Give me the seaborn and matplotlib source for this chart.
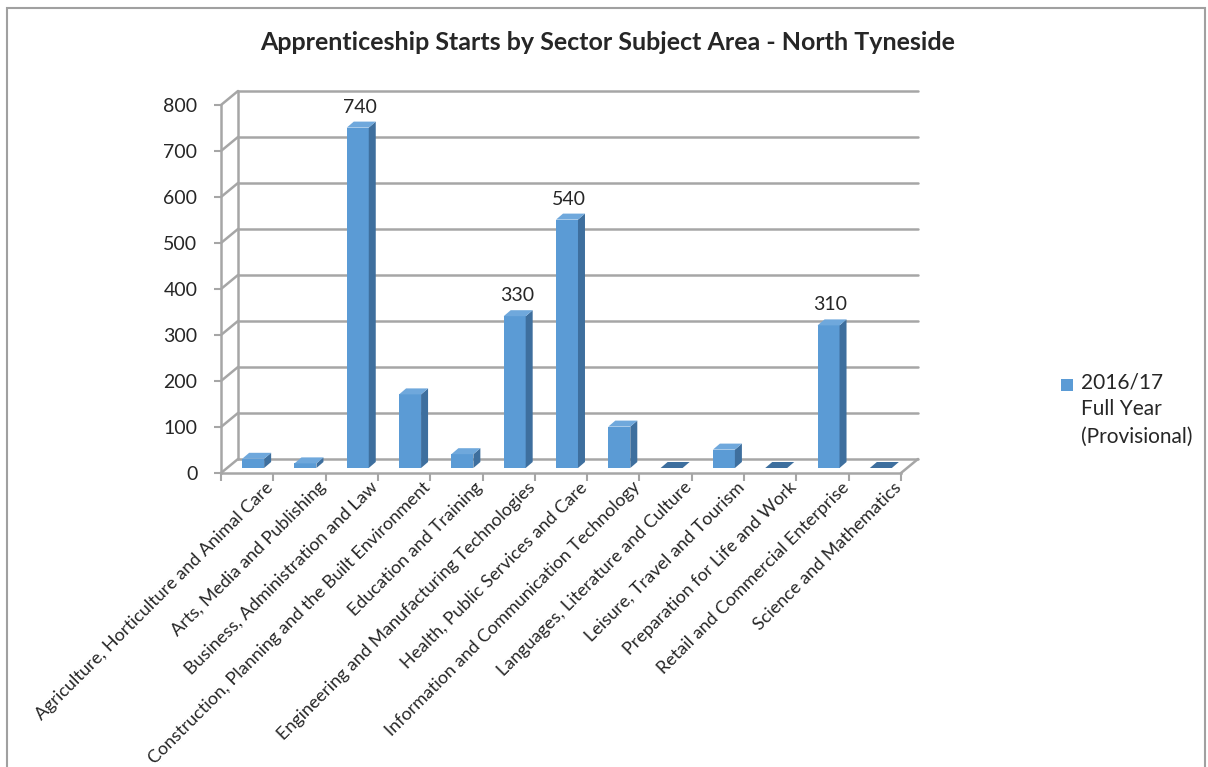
import numpy as np
import pandas as pd
import matplotlib
matplotlib.use("Agg")
import matplotlib.pyplot as plt
import matplotlib.transforms as mtransforms
from matplotlib.patches import Polygon, Rectangle
import seaborn as sns

sectors = [
    "Agriculture, Horticulture and Animal Care",
    "Arts, Media and Publishing",
    "Business, Administration and Law",
    "Construction, Planning and the Built Environment",
    "Education and Training",
    "Engineering and Manufacturing Technologies",
    "Health, Public Services and Care",
    "Information and Communication Technology",
    "Languages, Literature and Culture",
    "Leisure, Travel and Tourism",
    "Preparation for Life and Work",
    "Retail and Commercial Enterprise",
    "Science and Mathematics",
]
starts = [20, 10, 740, 160, 30, 330, 540, 90, 0, 40, 0, 310, 0]
labelled = {"Business, Administration and Law": 740,
            "Engineering and Manufacturing Technologies": 330,
            "Health, Public Services and Care": 540,
            "Retail and Commercial Enterprise": 310}
series_name = "2016/17\nFull Year\n(Provisional)"

df = pd.DataFrame({"Sector": sectors, "Starts": starts})

sns.set_style("white")
plt.rcParams["font.family"] = ["Lato", "DejaVu Sans"]

W, H = 1208, 767
fig = plt.figure(figsize=(W / 100, H / 100), dpi=100)
# axes: front-left corner at x=221, zero at y=473, 800 at y=105, right end at x=901
ax = fig.add_axes([221 / W, 1 - 473 / H, 680 / W, 368 / H])

bar_col = "#5B9BD5"
side_col = "#3E6F9E"
top_col = "#6FA8DC"
grid_col = "#A6A6A6"

# depth offset of the back wall in pixels
DX, DY = 17, 14

sns.barplot(data=df, x="Sector", y="Starts", color=bar_col, width=0.42,
            saturation=1, ax=ax, zorder=3)
ax.set_xlim(-0.5, len(sectors) - 0.5)
ax.set_ylim(0, 800)

# push bars to mid depth and add side/top faces
bar_off = mtransforms.offset_copy(ax.transData, fig=fig, x=6, y=5, units="dots")
ddx = 7 / (680 / len(sectors))
ddy = 6 / (368 / 800)
for p in list(ax.patches):
    p.set_transform(bar_off)
    p.set_edgecolor("none")
    x0, y0 = p.get_x(), p.get_y()
    x1, y1 = x0 + p.get_width(), y0 + p.get_height()
    side = Polygon([(x1, y0), (x1 + ddx, y0 + ddy), (x1 + ddx, y1 + ddy), (x1, y1)],
                   closed=True, facecolor=side_col, edgecolor="none",
                   transform=bar_off, zorder=3)
    top = Polygon([(x0, y1), (x0 + ddx, y1 + ddy), (x1 + ddx, y1 + ddy), (x1, y1)],
                  closed=True, facecolor=top_col if y1 > 0 else side_col,
                  edgecolor="none", transform=bar_off, zorder=3)
    ax.add_patch(side)
    ax.add_patch(top)

# back wall gridlines and side diagonals
blend = mtransforms.blended_transform_factory(ax.transAxes, ax.transData)
back = mtransforms.offset_copy(blend, fig=fig, x=DX, y=DY, units="dots")
for yv in range(0, 801, 100):
    ax.plot([0, 1], [yv, yv], color=grid_col, lw=1.8, transform=back,
            clip_on=False, zorder=1)
    ax.annotate("", xy=(0, yv), xycoords=blend, xytext=(DX, DY),
                textcoords="offset pixels",
                arrowprops=dict(arrowstyle="-", color=grid_col, lw=1.8,
                                shrinkA=0, shrinkB=0), zorder=1)
ax.plot([0, 0], [0, 800], color=grid_col, lw=1.8, transform=back,
        clip_on=False, zorder=1)
ax.annotate("", xy=(1, 0), xycoords=blend, xytext=(DX, DY),
            textcoords="offset pixels",
            arrowprops=dict(arrowstyle="-", color=grid_col, lw=1.8,
                            shrinkA=0, shrinkB=0), zorder=1)

for s in ["top", "right"]:
    ax.spines[s].set_visible(False)
for s in ["left", "bottom"]:
    ax.spines[s].set_color(grid_col)
    ax.spines[s].set_linewidth(1.8)

ax.set_yticks(range(0, 801, 100))
ax.tick_params(axis="y", length=5, width=1.5, color=grid_col, pad=12,
               labelsize=14, left=True)
ax.set_xticks(np.arange(-0.5, len(sectors)), minor=True)
ax.tick_params(axis="x", which="minor", length=6, width=1.5, color=grid_col,
               bottom=True)
ax.tick_params(axis="x", which="major", length=0, labelsize=13, pad=0)
ax.set_xticks(range(len(sectors)))
ax.set_xticklabels(sectors, rotation=45, ha="right", va="top",
                   rotation_mode="anchor")
shift = mtransforms.ScaledTranslation(18 / 100, -6 / 100, fig.dpi_scale_trans)
for lab in ax.get_xticklabels():
    lab.set_transform(lab.get_transform() + shift)
ax.set_xlabel("")
ax.set_ylabel("")

# value labels
for i, s in enumerate(sectors):
    if s in labelled:
        ax.annotate(str(labelled[s]), xy=(i, starts[i]), xycoords=bar_off,
                    xytext=(2, 12), textcoords="offset pixels",
                    ha="center", va="bottom", fontsize=14)

fig.suptitle("Apprenticeship Starts by Sector Subject Area - North Tyneside",
             x=0.503, y=1 - 31 / H, va="top", fontsize=18, fontweight="bold")

# legend: square swatch beside the first line of the series name
fig.text(1081 / W, 1 - 372 / H, series_name, va="top", ha="left",
         fontsize=15, linespacing=1.45)
fig.add_artist(Rectangle((1061 / W, 1 - 391 / H), 12 / W, 12 / H,
                         transform=fig.transFigure, facecolor=bar_col,
                         edgecolor="none"))

fig.add_artist(Rectangle((7 / W, -0.01), 1198 / W, 1 - 8 / H + 0.01,
                         transform=fig.transFigure, fill=False,
                         edgecolor="#A0A0A0", lw=1.5))

fig.savefig("out.png", dpi=100)
